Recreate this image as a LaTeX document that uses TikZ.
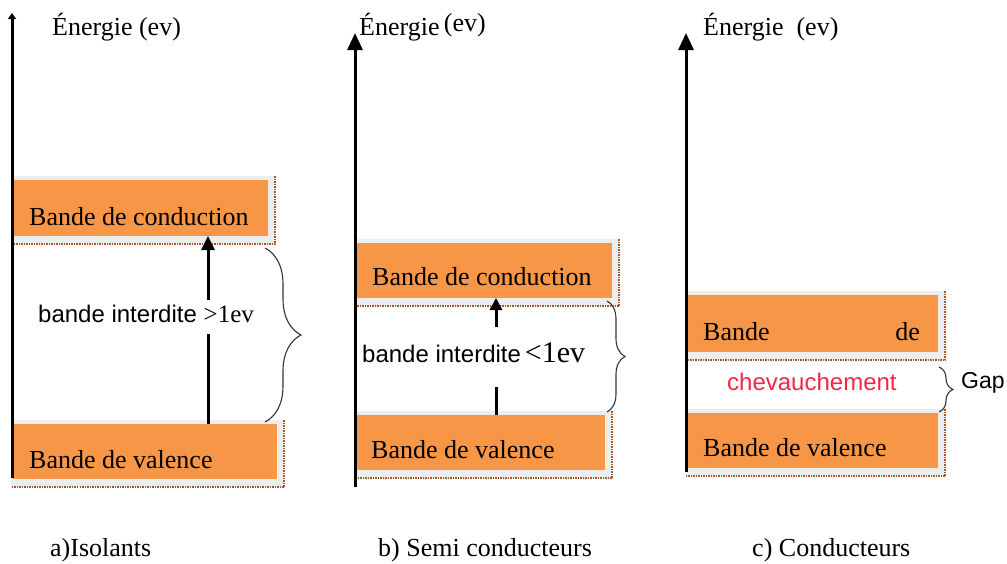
\documentclass[tikz,border=0pt]{standalone}
\usepackage{fontspec}
\setmainfont{Liberation Serif}
\setsansfont{Liberation Sans}
\usetikzlibrary{arrows.meta,decorations.pathreplacing}

\definecolor{bandorange}{HTML}{F79646}
\definecolor{shadowgray}{HTML}{EDEDED}
\definecolor{bandedge}{HTML}{A0582A}
\definecolor{overlapred}{RGB}{240,40,72}

% band box: orange rectangle with a light offset shadow and dotted edge
% #1 name, #2 left, #3 top, #4 right, #5 bottom
\newcommand\bandbox[5]{%
  \fill[shadowgray] (#2-2,#3-4) rectangle (#4+7,#5+8);
  \draw[bandedge, densely dotted, line width=1.5pt] (#4+7,#3-4) -- (#4+7,#5+8) -- (#2-2,#5+8);
  \node[bandfill, minimum width={(#4-#2)*1pt}, minimum height={(#5-#3)*1pt}] (#1) at (#2,#3) {};
}

\begin{document}
\begin{tikzpicture}[x=1pt,y=-1pt,
  lbl/.style={anchor=base west, inner sep=0pt, font=\fontsize{26}{30}\selectfont},
  slbl/.style={anchor=base west, inner sep=0pt, font=\sffamily\fontsize{24}{28}\selectfont},
  bandfill/.style={fill=bandorange, draw=none, inner sep=0pt, outer sep=0pt, anchor=north west},
  axisline/.style={line width=3pt, -{Triangle[length=17pt,width=15pt]}},
  gapline/.style={line width=3pt},
  gaparrow/.style={line width=3pt, -{Triangle[length=14pt,width=13pt]}},
  bracket/.style={decorate, decoration={brace, amplitude=#1}, line width=1.1pt, draw=black!80},
]
\useasboundingbox (0,0) rectangle (1007,563);

% ---------- a) Isolants ----------
\bandbox{a-cb}{13}{180}{268}{236}
\bandbox{a-vb}{13}{424}{277}{479}
\coordinate (a-bot) at (12,478);
\coordinate (a-top) at (12,13);
\draw[line width=3pt, -{Triangle[length=6pt,width=8pt]}] (a-bot) -- (a-top);
\node[lbl] (a-en) at (52,35) {Énergie (ev)};
\node[lbl] (a-cbt) at (29,225) {Bande de conduction};
\node[lbl] (a-vbt) at (29,468) {Bande de valence};
\node[slbl] (a-gap) at (38,322) {bande interdite {\rmfamily\fontsize{25}{30}\selectfont >1ev}};
\coordinate (a-gl) at (208,334);
\coordinate (a-gu) at (208,300);
\draw[gapline] (a-vb.north -| a-gl) -- (a-gl);
\draw[gaparrow] (a-gu) -- (a-cb.south -| a-gu);
\draw[bracket=36pt] (265,248) -- (265,422);
\node[lbl] (a-title) at (50,556) {a)Isolants};

% ---------- b) Semi conducteurs ----------
\bandbox{b-cb}{357}{243}{612}{298}
\bandbox{b-vb}{357}{415}{605}{470}
\coordinate (b-bot) at (355,487);
\coordinate (b-top) at (355,33);
\draw[axisline] (b-bot) -- (b-top);
\node[lbl] (b-en) at (359,35) {Énergie\,\raisebox{4pt}{(ev)}};
\node[lbl] (b-cbt) at (372,285) {Bande de conduction};
\node[lbl] (b-vbt) at (371,458) {Bande de valence};
\node[slbl] (b-gap) at (362,362) {bande interdite\,{\rmfamily\fontsize{30}{34}\selectfont <1ev}};
\coordinate (b-gl) at (496,387);
\coordinate (b-gu) at (496,327);
\draw[gapline] (b-vb.north -| b-gl) -- (b-gl);
\draw[line width=3pt, -{Triangle[length=12pt,width=12pt]}] (b-gu) -- (b-cb.south -| b-gu);
\draw[bracket=18pt] (607,301) -- (607,412);
\node[lbl] (b-title) at (378,556) {b) Semi conducteurs};

% ---------- c) Conducteurs ----------
\bandbox{c-cb}{687}{295}{938}{352}
\bandbox{c-vb}{687}{413}{938}{468}
\coordinate (c-bot) at (686,472);
\coordinate (c-top) at (686,33);
\draw[axisline] (c-bot) -- (c-top);
\node[lbl] (c-en) at (703,35) {Énergie\hspace{13pt}(ev)};
\node[lbl] (c-cbt1) at (703,340) {Bande};
\node[lbl, anchor=base east] (c-cbt2) at (920,340) {de};
\node[slbl, text=overlapred] (c-ov) at (727,390) {chevauchement};
\node[lbl] (c-vbt) at (703,456) {Bande de valence};
\draw[bracket=14pt] (939,367) -- (939,412);
\node[slbl, font=\sffamily\fontsize{23}{27}\selectfont] (c-gapt) at (961,388) {Gap};
\node[lbl] (c-title) at (752,556) {c) Conducteurs};
\end{tikzpicture}
\end{document}
